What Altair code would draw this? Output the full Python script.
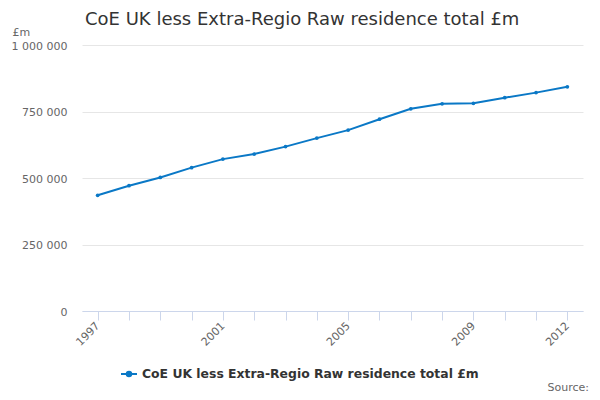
import altair as alt
import pandas as pd

years = [str(y) for y in range(1997, 2013)]
values = [435000, 471000, 502000, 539000, 571000, 590000, 618000, 650000,
          680000, 721000, 760000, 779000, 781000, 802000, 821000, 843000]
series_name = "CoE UK less Extra-Regio Raw residence total £m"
shown_year_labels = ["1997", "2001", "2005", "2009", "2012"]
y_ticks = [0, 250000, 500000, 750000, 1000000]

df = pd.DataFrame({"Year": years, "Value": values, "Series": series_name})

FONT = "DejaVu Sans"
BLUE = "#0a78c6"

label_cond = " || ".join("datum.label == '%s'" % s for s in shown_year_labels)

x_enc = alt.X(
    "Year:O",
    sort=years,
    scale=alt.Scale(type="point", padding=0.5),
    axis=alt.Axis(
        title=None,
        labelExpr="(%s) ? datum.label : ''" % label_cond,
        labelAngle=-45,
        labelAlign="right",
        labelBaseline="middle",
        labelPadding=4,
        labelFont=FONT,
        labelFontSize=11,
        labelColor="#666666",
        domainColor="#ccd6eb",
        tickColor="#ccd6eb",
        tickSize=9,
        grid=False,
    ),
)

y_enc = alt.Y(
    "Value:Q",
    scale=alt.Scale(domain=[0, 1000000]),
    axis=alt.Axis(
        values=y_ticks,
        labelExpr="replace(replace(format(datum.value, ','), ',', ' '), ',', ' ')",
        labelFont=FONT,
        labelFontSize=11,
        labelColor="#666666",
        labelPadding=15,
        labelBaseline="middle",
        labelOffset=1,
        ticks=False,
        domain=False,
        gridColor="#e6e6e6",
        title="£m",
        titleAngle=0,
        titleAlign="left",
        titleBaseline="alphabetic",
        titleX=-70,
        titleY=-10,
        titleFont=FONT,
        titleFontSize=11,
        titleFontWeight="normal",
        titleColor="#666666",
    ),
)

color_enc = alt.Color(
    "Series:N",
    scale=alt.Scale(range=[BLUE]),
    legend=alt.Legend(
        title=None,
        orient="none",
        legendX=38,
        legendY=320,
        symbolType="M-1,0L1,0M-0.28,0A0.28,0.28,0,1,1,0.28,0A0.28,0.28,0,1,1,-0.28,0Z",
        symbolSize=256,
        symbolStrokeWidth=2,
        symbolFillColor=BLUE,
        symbolStrokeColor=BLUE,
        labelFont=FONT,
        labelFontSize=12.4,
        labelFontWeight="bold",
        labelColor="#333333",
        labelOffset=4,
        labelLimit=500,
        padding=0,
    ),
)

base = alt.Chart(df)

line = base.mark_line(strokeWidth=2).encode(x=x_enc, y=y_enc, color=color_enc)
points = base.mark_point(filled=True, size=14, opacity=1).encode(
    x=x_enc, y=y_enc, color=alt.Color("Series:N", scale=alt.Scale(range=[BLUE]), legend=None)
)

source = alt.Chart(pd.DataFrame({"t": ["Source:"]})).mark_text(
    align="right", baseline="alphabetic", font=FONT, fontSize=11, color="#666666"
).encode(x=alt.value(507), y=alt.value(346), text="t:N")

chart = alt.layer(line, points, source).properties(
    width=501,
    height=266,
    autosize=alt.AutoSizeParams(type="none"),
    padding={"left": 74, "top": 37, "right": 9, "bottom": 83},
    title=alt.TitleParams(
        text=series_name,
        anchor="start",
        frame="group",
        font=FONT,
        fontSize=18,
        fontWeight="normal",
        color="#333333",
        baseline="alphabetic",
        offset=3,
        dx=3,
        dy=20,
    ),
).configure_view(stroke=None)

chart.save("out.html", embed_options={"renderer": "svg", "actions": False})
